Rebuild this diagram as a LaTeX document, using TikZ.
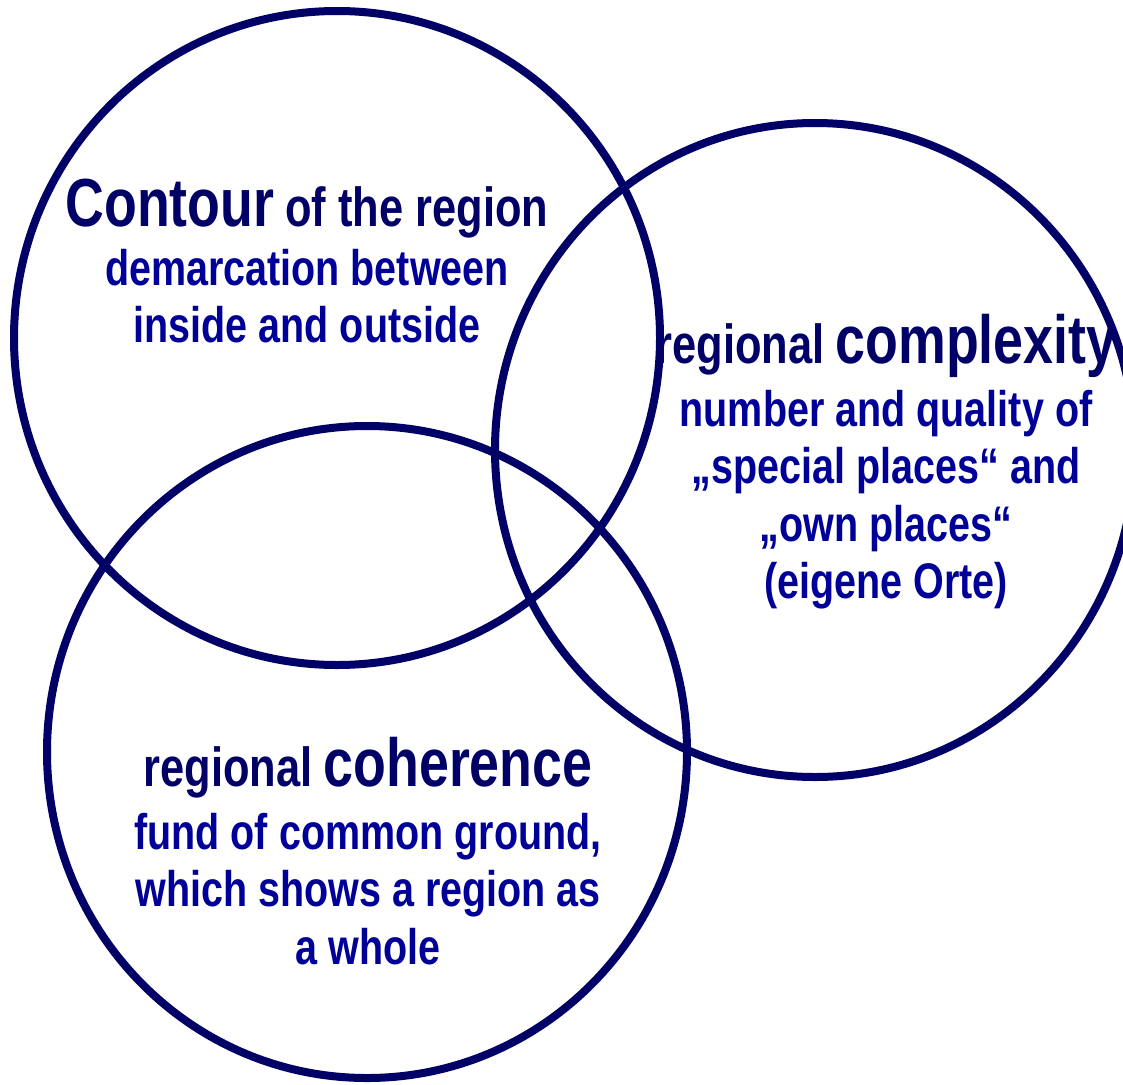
\documentclass[tikz,border=0pt]{standalone}
\usepackage{fontspec}
\setmainfont{Liberation Sans}[FakeStretch=0.79]
\begin{document}
\begin{tikzpicture}[x=1pt,y=-1pt,
  ring/.style={draw=venn_line,line width=8pt},
  ringtext/.style={align=center,inner sep=0pt,text=venn_sub,
    font=\bfseries\fontsize{50}{57.5}\selectfont}]
\definecolor{venn_line}{RGB}{0,0,102}
\definecolor{venn_head}{RGB}{0,0,102}
\definecolor{venn_sub}{RGB}{0,0,153}
\newcommand{\bigword}[1]{{\fontsize{68}{57.5}\selectfont #1}}
\newcommand{\smallword}[1]{{\fontsize{55}{57.5}\selectfont #1}}
\useasboundingbox (0,0) rectangle (1123,1084);
% the three rings
\draw[ring] (337,338) ellipse [x radius=323pt, y radius=327pt];
\draw[ring] (815,450) ellipse [x radius=320pt, y radius=327pt];
\draw[ring] (367,752) ellipse [x radius=320pt, y radius=326pt];
% texts
\node[ringtext] (contour) at (307,261) {{\color{venn_head}\bigword{Contour} \smallword{of the region}}\\[1.5pt]
demarcation between\\ inside and outside};
\node[ringtext] (complexity) at (886,462) {{\color{venn_head}\smallword{regional} \bigword{complexity}}\\[5pt]
number and quality of\\ „special places“ and\\ „own places“\\ (eigene Orte)};
\node[ringtext] (coherence) at (368,851) {{\color{venn_head}\smallword{regional} \bigword{coherence}}\\[5pt]
fund of common ground,\\ which shows a region as\\ a whole};
\end{tikzpicture}
\end{document}
